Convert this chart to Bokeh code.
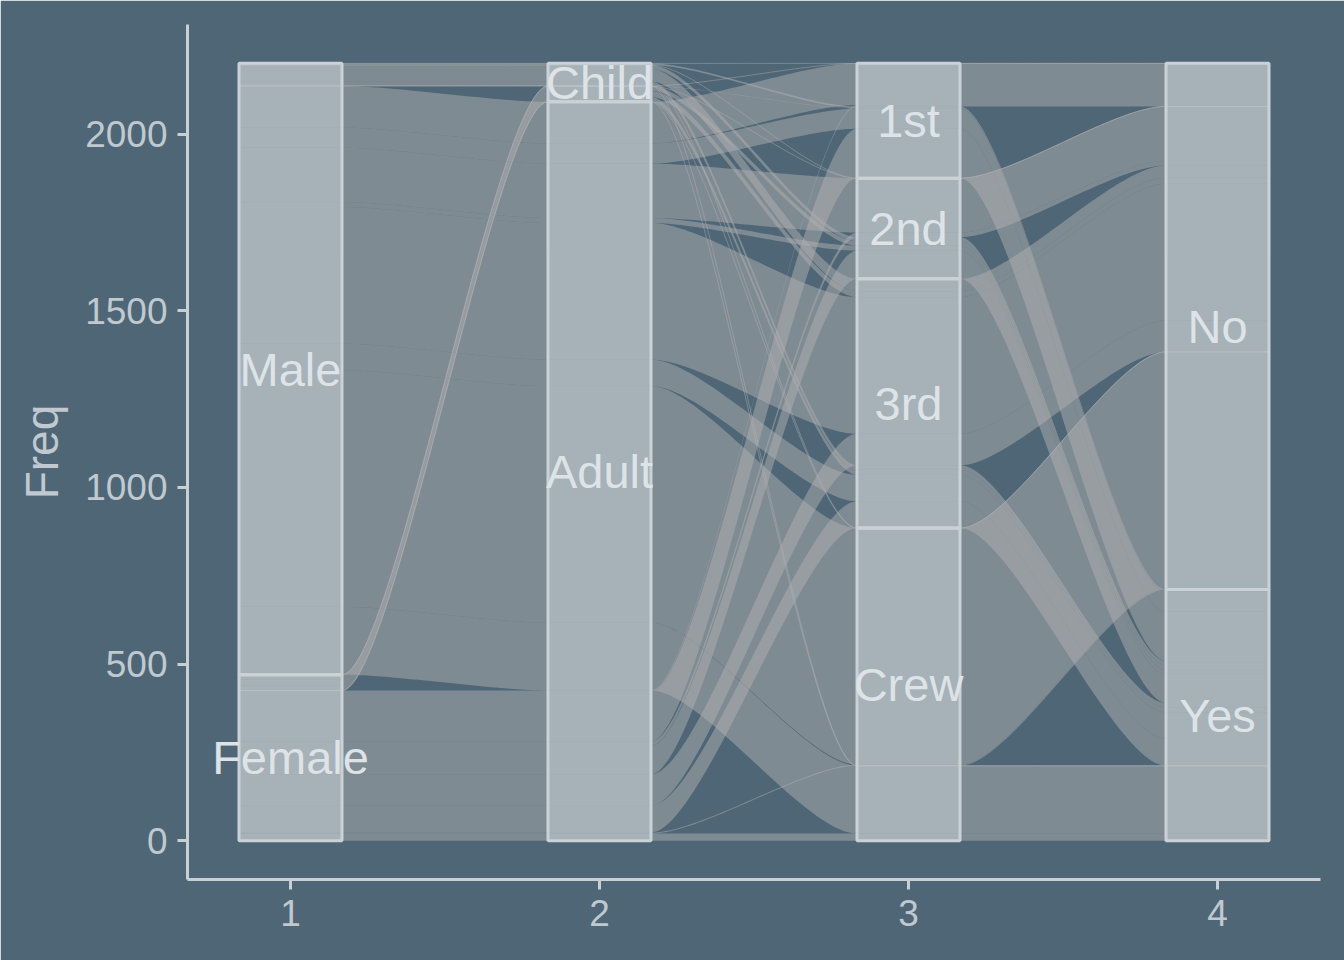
import numpy as np
from bokeh.plotting import figure
from bokeh.models import ColumnDataSource, FixedTicker, Range1d
from bokeh.embed import file_html
from bokeh.resources import INLINE
from bokeh.core.properties import value

# ---- data (Titanic) ----
classes = ["1st", "2nd", "3rd", "Crew"]
sexes = ["Male", "Female"]
ages = ["Child", "Adult"]
survived = ["No", "Yes"]
# frequencies in as.data.frame(Titanic) order: Class fastest, then Sex, Age, Survived
freq = [0, 0, 35, 0,   0, 0, 17, 0,
        118, 154, 387, 670,   4, 13, 89, 3,
        5, 11, 13, 0,   1, 13, 14, 0,
        57, 14, 75, 192,   140, 80, 76, 20]
axis_ticks = [1, 2, 3, 4]
y_ticks = [0, 500, 1000, 1500, 2000]

axis_levels = [sexes, ages, classes, survived]
W = 1.0 / 3.0

rows = []
k = 0
for s_i in range(len(survived)):
    for a_i in range(len(ages)):
        for x_i in range(len(sexes)):
            for c_i in range(len(classes)):
                rows.append(((x_i, a_i, c_i, s_i), freq[k]))
                k += 1
total = sum(freq)

guid = [[0, 1, 2, 3], [1, 0, 2, 3], [2, 3, 1, 0], [3, 2, 1, 0]]
lodes = np.zeros((len(rows), 4, 2))
for i in range(4):
    order = sorted(range(len(rows)), key=lambda r: tuple(rows[r][0][g] for g in guid[i]) + (r,))
    top = total
    for r in order:
        f = rows[r][1]
        lodes[r, i] = (top - f, top)
        top -= f


def bez(x0, y0, x1, y1, n=48):
    t = np.linspace(0, 1, n)
    g = x1 - x0
    px = [x0, x0 + g * 0.25, x1 - g * 0.25, x1]
    py = [y0, y0, y1, y1]
    bx = (1 - t) ** 3 * px[0] + 3 * (1 - t) ** 2 * t * px[1] + 3 * (1 - t) * t ** 2 * px[2] + t ** 3 * px[3]
    by = (1 - t) ** 3 * py[0] + 3 * (1 - t) ** 2 * t * py[1] + 3 * (1 - t) * t ** 2 * py[2] + t ** 3 * py[3]
    return list(bx), list(by)


def edge(yvals):
    xs, ys = [], []
    for i in range(4):
        x = axis_ticks[i]
        xs.append(x - W / 2)
        ys.append(yvals[i])
        if i < 3:
            bx, by = bez(x + W / 2, yvals[i], axis_ticks[i + 1] - W / 2, yvals[i + 1])
            xs += bx
            ys += by
        else:
            xs.append(x + W / 2)
            ys.append(yvals[i])
    return xs, ys


pxs, pys, lxs, lys = [], [], [], []
for r, (lv, f) in enumerate(rows):
    tx, ty = edge([lodes[r, i, 1] for i in range(4)])
    if f > 0:
        bx, by = edge([lodes[r, i, 0] for i in range(4)])
        pxs.append(tx + bx[::-1])
        pys.append(ty + by[::-1])
    else:
        lxs.append(tx)
        lys.append(ty)

p = figure(width=1344, height=960, x_range=Range1d(2 / 3, 13 / 3),
           y_range=Range1d(-0.05 * total, 1.05 * total),
           output_backend="svg", toolbar_location=None,
           min_border_left=187, min_border_right=24, min_border_top=24, min_border_bottom=81)
BG = "#4f6677"
p.background_fill_color = BG
p.border_fill_color = BG
p.outline_line_color = BG
p.outline_line_width = 2
p.xgrid.visible = False
p.ygrid.visible = False

p.patches(xs="xs", ys="ys", source=ColumnDataSource(dict(xs=pxs, ys=pys)),
          fill_color="#afafaf", fill_alpha=0.5, line_color=None)
p.multi_line(xs="xs", ys="ys", source=ColumnDataSource(dict(xs=lxs, ys=lys)),
             line_color="#b4b4b4", line_alpha=0.55, line_width=0.8)

# strata
sl, sr, sb, st, tx_, ty_, tt = [], [], [], [], [], [], []
for i in range(4):
    top = total
    for li, lab in enumerate(axis_levels[i]):
        n = sum(f for (lv, f) in rows if lv[i] == li)
        sl.append(axis_ticks[i] - W / 2)
        sr.append(axis_ticks[i] + W / 2)
        sb.append(top - n)
        st.append(top)
        tx_.append(axis_ticks[i])
        ty_.append(top - n / 2)
        tt.append(lab)
        top -= n
p.quad(left=sl, right=sr, bottom=sb, top=st, fill_color="#e1eaf0", fill_alpha=0.4,
       line_color="#cad2d8", line_width=3)
p.text(x=tx_, y=ty_, text=tt, text_align="center", text_baseline="middle",
       text_font=value("Liberation Sans"), text_font_size="47px", text_color="#dde3e7")

p.xaxis.ticker = FixedTicker(ticks=axis_ticks)
p.yaxis.ticker = FixedTicker(ticks=y_ticks)
p.yaxis.axis_label = "Freq"
for ax in [p.xaxis[0], p.yaxis[0]]:
    ax.axis_line_color = "#c8d0d6"
    ax.axis_line_width = 3
    ax.major_tick_line_color = "#c8d0d6"
    ax.major_tick_line_width = 3
    ax.major_tick_out = 10
    ax.major_tick_in = 0
    ax.minor_tick_line_color = None
    ax.major_label_text_color = "#bfc9cf"
    ax.major_label_text_font = "Liberation Sans"
    ax.major_label_text_font_size = "37px"
    ax.major_label_standoff = 10
p.yaxis.axis_label_text_color = "#bfc9cf"
p.yaxis.axis_label_text_font = "Liberation Sans"
p.yaxis.axis_label_text_font_size = "46px"
p.yaxis.axis_label_text_font_style = "normal"
p.yaxis.axis_label_standoff = 14

html = file_html(p, INLINE)
html = html.replace("<body>", '<body style="background:#4f6677;">', 1)
open("out.html", "w").write(html)
